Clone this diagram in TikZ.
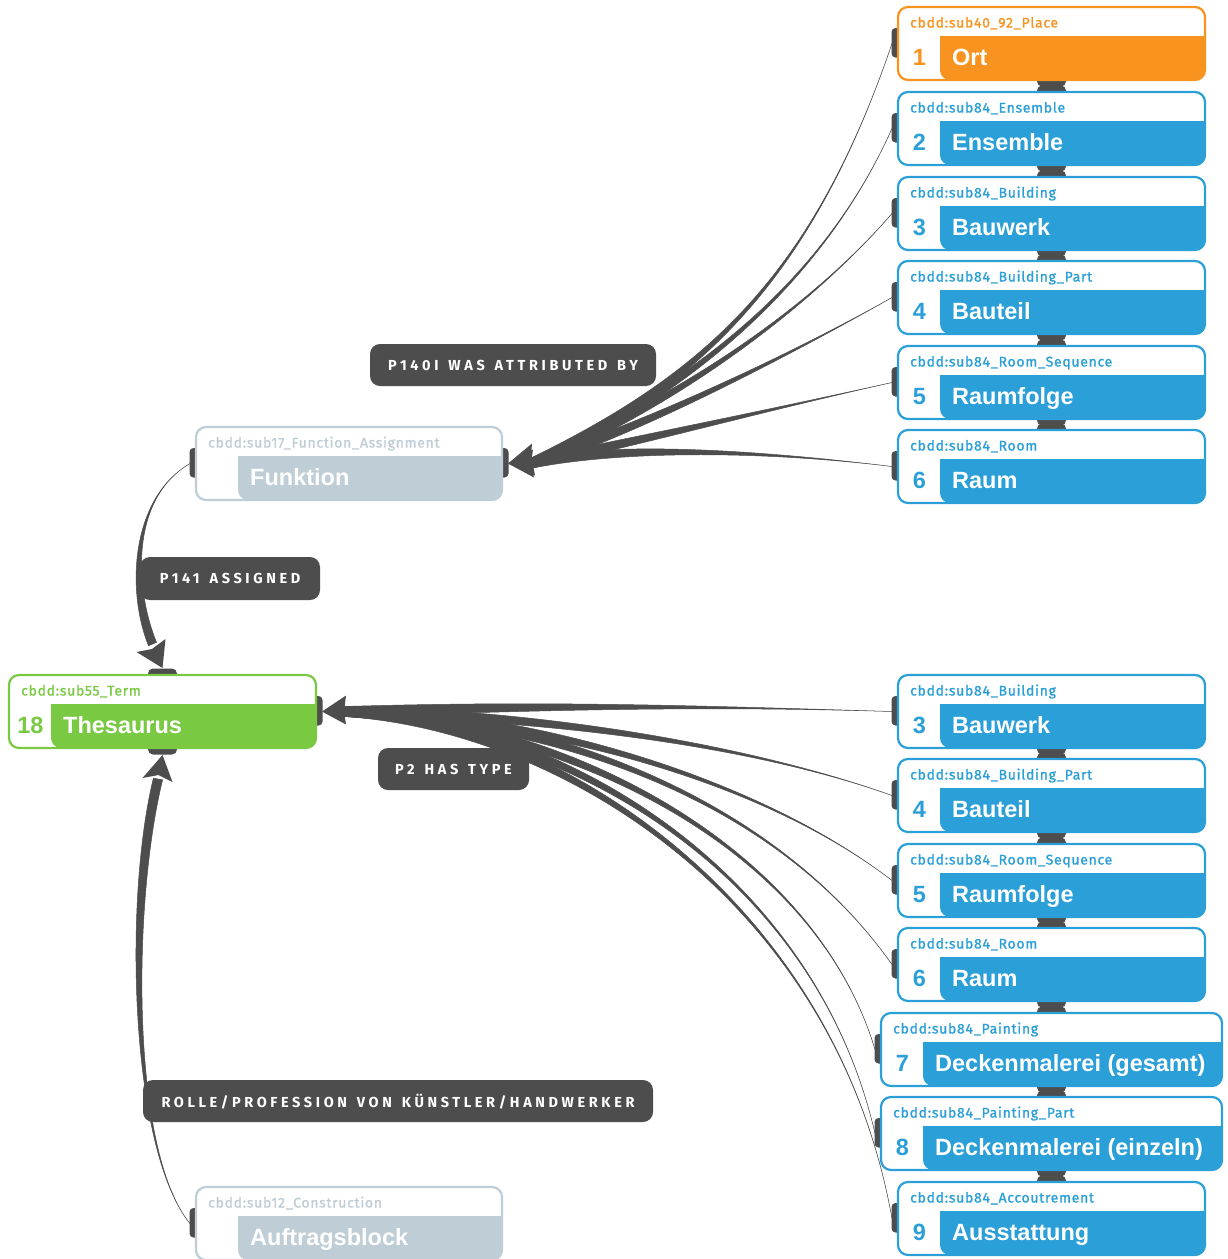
\documentclass[tikz,border=0pt]{standalone}
\usepackage{fontspec}
\setmainfont{Liberation Sans}
\newfontfamily\hdrfont{Fira Sans}[FakeBold=1.2, LetterSpace=5]
\newfontfamily\lblfont{Fira Sans}[LetterSpace=25, WordSpace=1.4]
\newfontfamily\ttlfont{Liberation Sans}
\usetikzlibrary{calc}
\definecolor{cOrange}{HTML}{F7931E}
\definecolor{cBlue}{HTML}{2B9FD7}
\definecolor{cGreen}{HTML}{7AC943}
\definecolor{cGrey}{HTML}{BFCDD6}
\definecolor{cDark}{HTML}{4D4D4D}
\pgfdeclarelayer{bg}
\pgfsetlayers{bg,main}
% #1 name #2 x #3 y #4 width #5 colour #6 number #7 header #8 title
\newcommand\entity[8]{%
  \node[inner sep=0pt, outer sep=0pt, minimum width=#4pt, minimum height=73pt, anchor=north west] (#1) at (#2,#3) {};
  \begin{scope}[shift={(#1.north west)}]
    \fill[white, rounded corners=10pt] (0,0) rectangle (#4,73);
    \fill[#5, rounded corners=10pt] (42,29) rectangle (#4,73);
    \fill[#5] (42,29) rectangle (#4,45);
    \draw[#5, line width=2.2pt, rounded corners=10pt] (0,0) rectangle (#4,73);
    \node[hdr, text=#5, anchor=base west] (#1h) at (12,20.5) {#7};
    \node[ttl, text=#5, anchor=base] (#1n) at (21.5,58.5) {#6};
    \node[ttl, text=white, anchor=base west] (#1t) at (54,58.5) {#8};
  \end{scope}
  \coordinate (#1L) at ($(#1.west)+(-6,0)$);
  \coordinate (#1R) at ($(#1.east)+(6,0)$);
  \coordinate (#1T) at ($(#1.north)+(0,-7)$);
  \coordinate (#1B) at ($(#1.south)+(0,7)$);
}
\newcommand\hL[1]{\begin{pgfonlayer}{bg}\fill[cDark, rounded corners=4pt] ($(#1.west)+(-6.5,-15.5)$) rectangle ($(#1.west)+(6,14)$);\end{pgfonlayer}}
\newcommand\hR[1]{\begin{pgfonlayer}{bg}\fill[cDark, rounded corners=4pt] ($(#1.east)+(-6,-15.5)$) rectangle ($(#1.east)+(6.5,14)$);\end{pgfonlayer}}
\newcommand\hT[1]{\begin{pgfonlayer}{bg}\fill[cDark, rounded corners=5pt] ($(#1.north)+(-14.5,-6.5)$) rectangle ($(#1.north)+(14.5,6)$);\end{pgfonlayer}}
\newcommand\hB[1]{\begin{pgfonlayer}{bg}\fill[cDark, rounded corners=5pt] ($(#1.south)+(-14.5,-6)$) rectangle ($(#1.south)+(14.5,6.5)$);\end{pgfonlayer}}
% tapered connector: #1 source, #2 ctrl1 rel. source, #3 ctrl2 rel. end, #4 end, #5 half width vector
\newcommand\taper[5]{%
  \filldraw[conn] (#1) .. controls +(#2) and +(#3) .. ($(#4)+(#5)$) -- ($(#4)-(#5)$) .. controls +(#3) and +(#2) .. (#1) -- cycle;
}
\begin{document}
\begin{tikzpicture}[x=1pt, y=-1pt,
  conn/.style={fill=cDark, draw=cDark, line width=0.5pt},
  hdr/.style={inner sep=0pt, font=\hdrfont\fontsize{14}{15}\selectfont},
  ttl/.style={inner sep=0pt, font=\ttlfont\bfseries\fontsize{23.5}{26}\selectfont},
  lbl/.style={fill=cDark, rounded corners=10pt, text=white, inner sep=0pt, text depth=0pt,
    font=\lblfont\bfseries\fontsize{14.5}{16}\selectfont}]
\begin{pgfonlayer}{bg}
\fill[white] (0,0) rectangle (1227,1259);
\end{pgfonlayer}
\useasboundingbox (0,0) rectangle (1227,1259);

% ---------- entities ----------
\entity{r1}{898}{7}{307}{cOrange}{1}{cbdd:sub40\_92\_Place}{Ort}
\entity{r2}{898}{92}{307}{cBlue}{2}{cbdd:sub84\_Ensemble}{Ensemble}
\entity{r3}{898}{177}{307}{cBlue}{3}{cbdd:sub84\_Building}{Bauwerk}
\entity{r4}{898}{261}{307}{cBlue}{4}{cbdd:sub84\_Building\_Part}{Bauteil}
\entity{r5}{898}{346}{307}{cBlue}{5}{cbdd:sub84\_Room\_Sequence}{Raumfolge}
\entity{r6}{898}{430}{307}{cBlue}{6}{cbdd:sub84\_Room}{Raum}
\entity{s3}{898}{675}{307}{cBlue}{3}{cbdd:sub84\_Building}{Bauwerk}
\entity{s4}{898}{759}{307}{cBlue}{4}{cbdd:sub84\_Building\_Part}{Bauteil}
\entity{s5}{898}{844}{307}{cBlue}{5}{cbdd:sub84\_Room\_Sequence}{Raumfolge}
\entity{s6}{898}{928}{307}{cBlue}{6}{cbdd:sub84\_Room}{Raum}
\entity{s7}{881}{1013}{341}{cBlue}{7}{cbdd:sub84\_Painting}{Deckenmalerei (gesamt)}
\entity{s8}{881}{1097}{341}{cBlue}{8}{cbdd:sub84\_Painting\_Part}{Deckenmalerei (einzeln)}
\entity{s9}{898}{1182}{307}{cBlue}{9}{cbdd:sub84\_Accoutrement}{Ausstattung}
\entity{fun}{196}{427}{306}{cGrey}{}{cbdd:sub17\_Function\_Assignment}{Funktion}
\entity{the}{9}{675}{307}{cGreen}{18}{cbdd:sub55\_Term}{Thesaurus}
\entity{auf}{196}{1187}{306}{cGrey}{}{cbdd:sub12\_Construction}{Auftragsblock}

% ---------- handles ----------
\foreach \n in {r1,r2,r3,r4,r5,r6,s3,s4,s5,s6,s7,s8,s9,fun,auf} {\hL{\n}}
\foreach \n in {r1,r2,r3,r4,r5,s3,s4,s5,s6,s7,s8} {\hB{\n}}
\foreach \n in {r2,r3,r4,r5,r6,s4,s5,s6,s7,s8,s9} {\hT{\n}}
\hR{fun} \hR{the} \hT{the} \hB{the}

% ---------- P140i was attributed by: r1..r6 -> fun ----------
\coordinate (funA) at ($(funR)+(22,0)$);
\taper{r1L}{-81,238}{170,-83}{funA}{0,5}
\taper{r2L}{-72,161}{150,-68}{funA}{0,5}
\taper{r3L}{-92,106}{130,-53}{funA}{0,5}
\taper{r4L}{-92,52}{110,-33}{funA}{0,5}
\taper{r5L}{-122,27}{110,-23}{funA}{0,5}
\taper{r6L}{-132,-16}{90,-18}{funA}{0,5}
\fill[cDark] (funR) -- ++(24,-20) -- ++(-1,12) -- ++(4,20) -- cycle;
\fill[cDark] (funR) -- ++(25,-14) -- ++(-2,14) -- ++(3,14) -- cycle;

% ---------- P2 has type: s3..s9 -> the ----------
\coordinate (theA) at ($(theR)+(22,0)$);
\taper{s3L}{-200,-6}{200,-6}{theA}{0,5}
\taper{s4L}{-140,-50}{200,3}{theA}{0,5}
\taper{s5L}{-130,-100}{200,5}{theA}{0,5}
\taper{s6L}{-120,-170}{200,5}{theA}{0,5}
\taper{s7L}{-60,-200}{230,12}{theA}{0,5}
\taper{s8L}{-60,-260}{225,13}{theA}{0,5}
\taper{s9L}{-57,-318}{217,14}{theA}{0,5}
\fill[cDark] (theR) -- ++(24,-16) -- ++(-2,16) -- ++(2,13) -- cycle;

% ---------- P141 assigned: fun -> the (top) ----------
\coordinate (theTA) at ($(theT)+(-10,-24)$);
\taper{funL}{-60,35}{-22,-54}{theTA}{4,-1.7}
\fill[cDark] (theT) -- ++(-26,-16) -- ++(15.5,-3) -- ++(13.5,-10) -- cycle;

% ---------- Rolle/Profession: auf -> the (bottom) ----------
\coordinate (theBA) at ($(theB)+(-4.5,24)$);
\taper{aufL}{-60,-73}{-30,122}{theBA}{4.6,0.8}
\fill[cDark] (theB) -- ++(-20,23) -- ++(16,-3) -- ++(14,7) -- cycle;

% ---------- labels ----------
\node[lbl, minimum width=286pt, minimum height=42pt] (l1) at (513,365) {P140I WAS ATTRIBUTED BY};
\node[lbl, minimum width=180pt, minimum height=43pt] (l2) at (230,578.5) {P141 ASSIGNED};
\node[lbl, minimum width=151pt, minimum height=42pt] (l3) at (453.5,769) {P2 HAS TYPE};
\node[lbl, minimum width=510pt, minimum height=42pt] (l4) at (398,1101) {ROLLE/PROFESSION VON KÜNSTLER/HANDWERKER};
\end{tikzpicture}
\end{document}
